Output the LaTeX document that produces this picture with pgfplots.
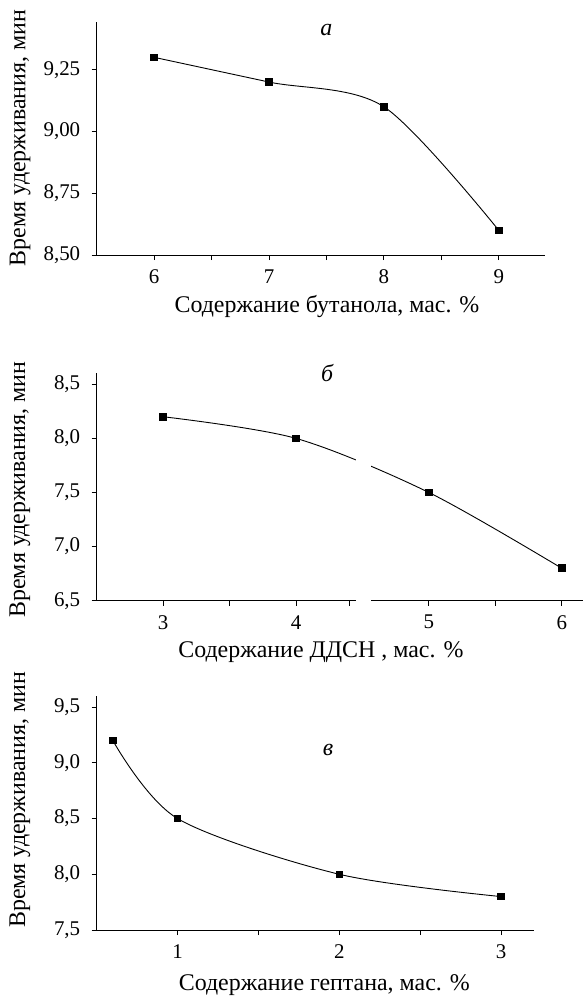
\documentclass[border=0pt]{standalone}
\usepackage{fontspec}
\setmainfont{Liberation Serif}
\usepackage{pgfplots}
\pgfplotsset{compat=1.18}

\pgfplotsset{
  panel/.style={
    scale only axis,
    axis x line=bottom,
    axis y line=left,
    axis line style={-, line width=1bp},
    tick align=outside,
    major tick length=5bp,
    minor tick length=5bp,
    tick style={black, line width=0.9bp},
    every tick label/.append style={font=\fontsize{21}{25}\selectfont},
    y tick label style={xshift=-8bp},
    x tick label style={yshift=-6bp},
    /pgf/number format/assume math mode=true,
    /pgf/number format/use comma,
    ylabel={Время удерживания, мин},
    every axis y label/.style={rotate=90, anchor=center, font=\fontsize{24}{28}\selectfont},
    every axis x label/.style={anchor=center, font=\fontsize{24}{28}\selectfont},
    clip=false,
  },
  curve/.style={black, line width=0.9bp, smooth, tension=0.5,
    mark=square*, mark size=3.3bp, mark options={solid}},
}
\tikzset{letter/.style={font=\itshape\fontsize{24}{28}\selectfont}}

\begin{document}
\begin{tikzpicture}
\useasboundingbox (0,0) rectangle (583bp,-996bp);

% а
\begin{axis}[panel,
  at={(96.7bp,-255bp)}, anchor=south west,
  width=448bp, height=233bp,
  xmin=5.5, xmax=9.4, ymin=8.5, ymax=9.443,
  xtick={6,7,8,9}, minor xtick={6.5,7.5,8.5},
  ytick={8.5,8.75,9,9.25},
  yticklabel style={/pgf/number format/.cd, fixed, fixed zerofill, precision=2},
  xlabel={Содержание бутанола, мас. \%},
  xlabel style={at={(axis description cs:0.514,0)}, yshift=-52bp},
  ylabel style={at={(axis description cs:-0.171,0.502)}},
]
\addplot[curve] coordinates {(6,9.30) (7,9.20) (8,9.10) (9,8.60)};
\node[letter] at (axis cs:7.5,9.41) {а};
\end{axis}

% б
\begin{axis}[panel,
  at={(96.7bp,-600.7bp)}, anchor=south west,
  width=486.3bp, height=227.7bp,
  xmin=2.5, xmax=6.16, ymin=6.5, ymax=8.604,
  xtick={3,4,5,6}, minor xtick={3.5,4.4,5.5},
  ytick={6.5,7,7.5,8,8.5},
  yticklabel style={/pgf/number format/.cd, fixed, fixed zerofill, precision=1},
  xlabel={Содержание ДДСН , мас. \%},
  xlabel style={at={(axis description cs:0.461,0)}, yshift=-51bp},
  ylabel style={at={(axis description cs:-0.158,0.488)}},
]
\addplot[curve] coordinates {(3,8.2) (4,8.0) (5,7.5) (6,6.8)};
\node[letter] at (axis cs:4.234,8.6) {б};
\coordinate (g1) at (axis cs:4.453,6.42);
\coordinate (g2) at (axis cs:4.561,8.0);
\end{axis}
\fill[white] (g1) rectangle (g2);

% в
\begin{axis}[panel,
  at={(96.7bp,-930bp)}, anchor=south west,
  width=436.8bp, height=234bp,
  xmin=0.5, xmax=3.2, ymin=7.5, ymax=9.6,
  xtick={1,2,3}, minor xtick={1.5,2.5},
  ytick={7.5,8,8.5,9,9.5},
  yticklabel style={/pgf/number format/.cd, fixed, fixed zerofill, precision=1},
  xlabel={Содержание гептана, мас. \%},
  xlabel style={at={(axis description cs:0.521,0)}, yshift=-55bp},
  ylabel style={at={(axis description cs:-0.1756,0.556)}},
]
\addplot[curve] coordinates {(0.6,9.2) (1,8.5) (2,8.0) (3,7.8)};
\node[letter] at (axis cs:1.93,9.115) {в};
\end{axis}
\end{tikzpicture}
\end{document}
